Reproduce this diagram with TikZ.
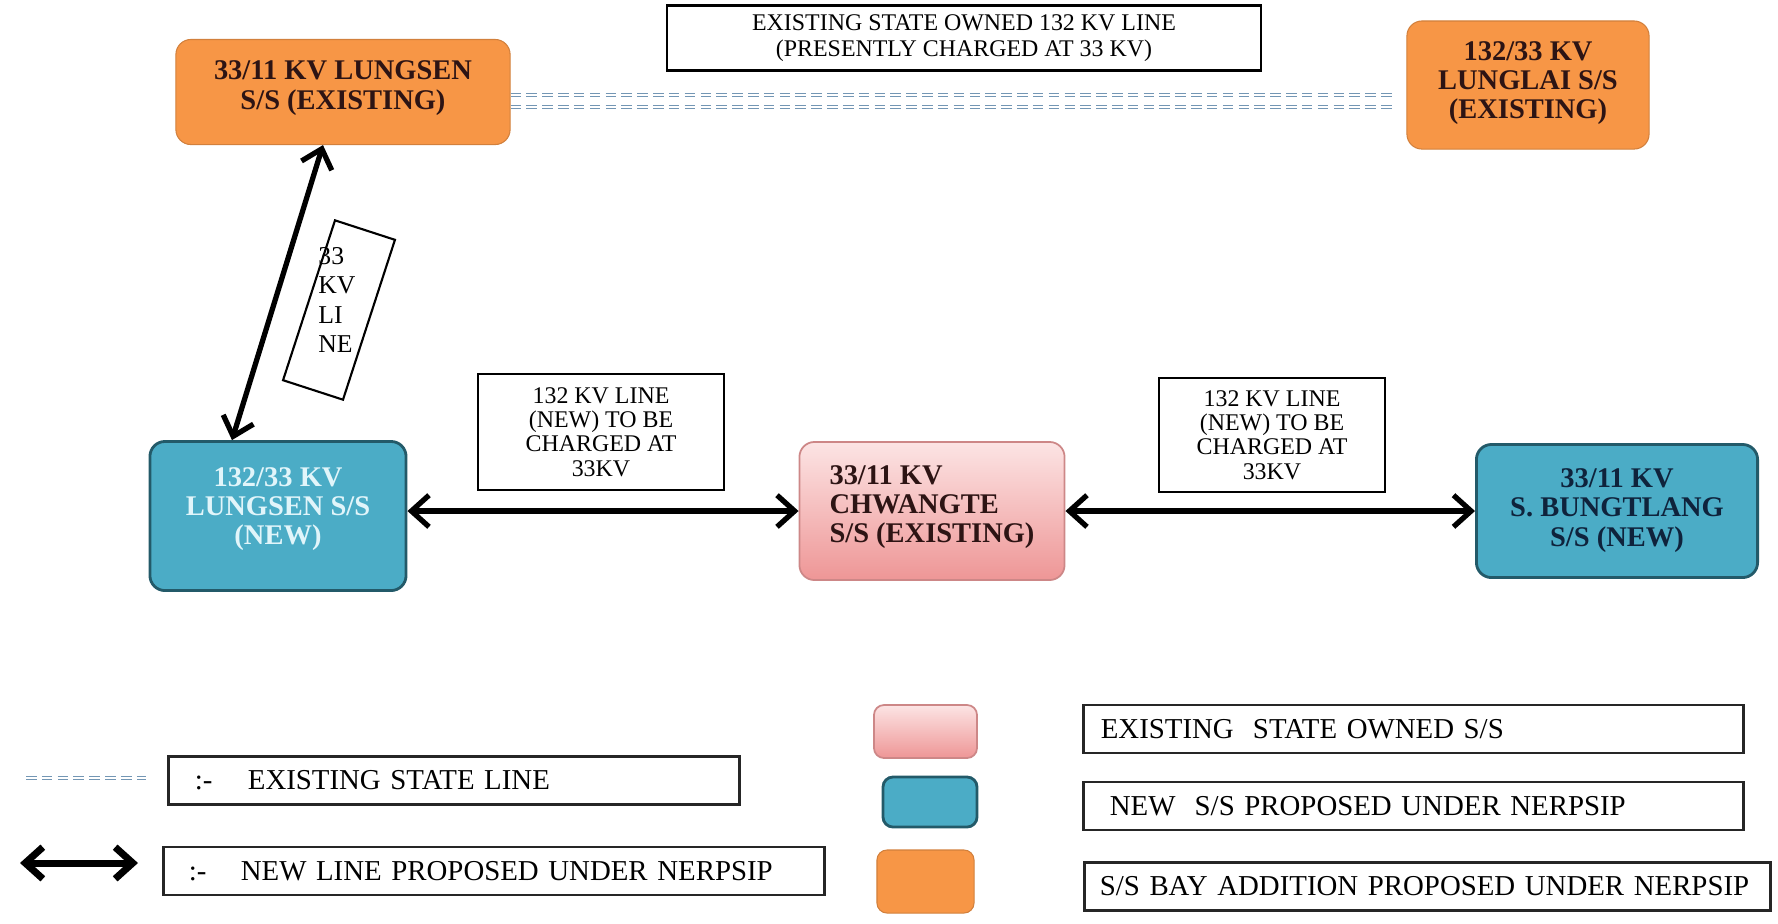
\documentclass[tikz,border=0pt]{standalone}
\usepackage{fontspec}
\setmainfont{Liberation Serif}
\usetikzlibrary{arrows.meta,positioning,calc}

\definecolor{ssorange}{RGB}{247,150,70}
\definecolor{ssblue}{RGB}{75,172,198}
\definecolor{ssblueedge}{RGB}{35,90,105}
\definecolor{sspinktop}{RGB}{252,228,228}
\definecolor{sspinkbot}{RGB}{238,150,150}
\definecolor{sspinkedge}{RGB}{205,135,135}
\definecolor{linegrey}{RGB}{115,150,180}
\definecolor{darktext}{RGB}{45,20,20}
\definecolor{navytext}{RGB}{15,35,60}
\definecolor{lighttext}{RGB}{225,245,250}

% extra depth under the last line, lifts the text in its box
\newcommand{\padbelow}[1]{\rule[-#1]{0pt}{#1}}

\begin{document}
\begin{tikzpicture}[x=0.01cm, y=-0.01cm,
    every node/.style={font=\fontsize{8.1}{8.5}\selectfont},
    station/.style={rounded corners=0.15cm, align=center, inner sep=0pt,
        font=\fontsize{8.1}{8.3}\selectfont\bfseries},
    oldbay/.style={station, fill=ssorange, draw=ssorange!85!black, line width=0.3pt, text=darktext},
    newss/.style={station, fill=ssblue, draw=ssblueedge, line width=0.8pt},
    oldss/.style={station, top color=sspinktop, bottom color=sspinkbot, draw=sspinkedge,
        line width=0.5pt, text=darktext},
    linebox/.style={draw, line width=0.6pt, align=center, inner sep=0pt,
        font=\fontsize{6.8}{6.9}\selectfont},
    legbox/.style={draw=black!85, line width=0.8pt, align=left, inner ysep=0pt,
        minimum height=0.48cm, font=\fontsize{8.2}{9}\selectfont},
    stateline/.style={draw=linegrey, line width=0.35pt, double=white, double distance=0.6pt,
        dash pattern=on 3pt off 1.5pt},
    newline/.style={line width=1.5pt,
        {Straight Barb[length=5pt,width=9pt]}-{Straight Barb[length=5pt,width=9pt]}}
]
    \useasboundingbox (0,0) rectangle (1778,923);

    % substations
    \node[oldbay, minimum width=3.34cm, minimum height=1.05cm] (lungsenold) at (343,92)
        {33/11 KV LUNGSEN\\S/S (EXISTING)\padbelow{0.14cm}};
    \node[oldbay, minimum width=2.42cm, minimum height=1.28cm] (lunglai) at (1528,85)
        {132/33 KV\\LUNGLAI S/S\\(EXISTING)\padbelow{0.1cm}};
    \node[newss, text=lighttext, minimum width=2.56cm, minimum height=1.49cm] (lungsennew) at (278,516)
        {132/33 KV\\LUNGSEN S/S\\(NEW)\padbelow{0.2cm}};
    \node[oldss, align=left, minimum width=2.65cm, minimum height=1.38cm] (chwangte) at (932,511)
        {33/11 KV\\CHWANGTE\\S/S (EXISTING)\padbelow{0.14cm}};
    \node[newss, text=navytext, minimum width=2.81cm, minimum height=1.33cm] (bungtlang) at (1617,511)
        {33/11 KV\\S. BUNGTLANG\\S/S (NEW)\padbelow{0.07cm}};

    % line labels
    \node[linebox, font=\fontsize{6.8}{7.4}\selectfont, minimum width=5.94cm, minimum height=0.65cm]
        (statelabel) at (964,38) {EXISTING STATE OWNED 132 KV LINE\\(PRESENTLY CHARGED AT 33 KV)};
    \node[linebox, minimum width=2.45cm, minimum height=1.16cm] (linelabA) at (601,432)
        {132 KV LINE\\(NEW) TO BE\\CHARGED AT\\33KV};
    \node[linebox, minimum width=2.26cm, minimum height=1.14cm] (linelabB) at (1272,435)
        {132 KV LINE\\(NEW) TO BE\\CHARGED AT\\33KV};
    \node[draw, line width=0.6pt, rotate=-18, minimum width=0.63cm, minimum height=1.68cm,
        inner sep=0pt] (kvbox) at (339,310) {};
    \node[align=left, inner sep=0pt, font=\fontsize{7.3}{8.4}\selectfont] (kvlabel) at (337,300)
        {33\\KV\\LI\\NE};

    % lines
    \draw[stateline, shorten >=0.14cm] (lungsenold.east |- 0,95) -- (lunglai.west |- 0,95);
    \draw[stateline, shorten >=0.14cm] (lungsenold.east |- 0,107) -- (lunglai.west |- 0,107);
    \draw[newline] ([xshift=-0.2cm]lungsenold.south) -- ([xshift=-0.46cm]lungsennew.north);
    \draw[newline] (lungsennew.east |- chwangte.west) -- (chwangte.west);
    \draw[newline] (chwangte.east) -- (chwangte.east -| bungtlang.west);

    % legend, left
    \coordinate (legdashA) at (26,778);
    \coordinate (legdashB) at (146,778);
    \draw[stateline] (legdashA) -- (legdashB);
    \coordinate (legarrA) at (20,863);
    \coordinate (legarrB) at (138,863);
    \draw[newline, line width=2pt] (legarrA) -- (legarrB);
    \node[legbox, inner xsep=0.26cm, text width=5.18cm] (legstate) at (454,780.5)
        {\makebox[0.53cm][l]{:-}EXISTING STATE LINE};
    \node[legbox, inner xsep=0.25cm, text width=6.10cm] (legnew) at (494,871)
        {\makebox[0.52cm][l]{:-}NEW LINE PROPOSED UNDER NERPSIP};

    % legend, right
    \node[oldss, rounded corners=0.1cm, minimum width=1.03cm, minimum height=0.53cm] (swexist) at (925.5,731.5) {};
    \node[newss, rounded corners=0.1cm, minimum width=0.94cm, minimum height=0.50cm] (swnew) at (930,802) {};
    \node[oldbay, rounded corners=0.1cm, minimum width=0.97cm, minimum height=0.63cm] (swbay) at (925.5,881.5) {};
    \node[legbox, inner xsep=0.17cm, text width=6.25cm] (legexist) at (1413.5,729)
        {EXISTING\ \ STATE OWNED S/S};
    \node[legbox, inner xsep=0.26cm, text width=6.07cm] (legnewss) at (1413.5,806)
        {NEW\ \ S/S PROPOSED UNDER NERPSIP};
    \node[legbox, inner xsep=0.15cm, text width=6.55cm] (legbay) at (1427.5,886.5)
        {S/S BAY ADDITION PROPOSED UNDER NERPSIP};
\end{tikzpicture}
\end{document}
